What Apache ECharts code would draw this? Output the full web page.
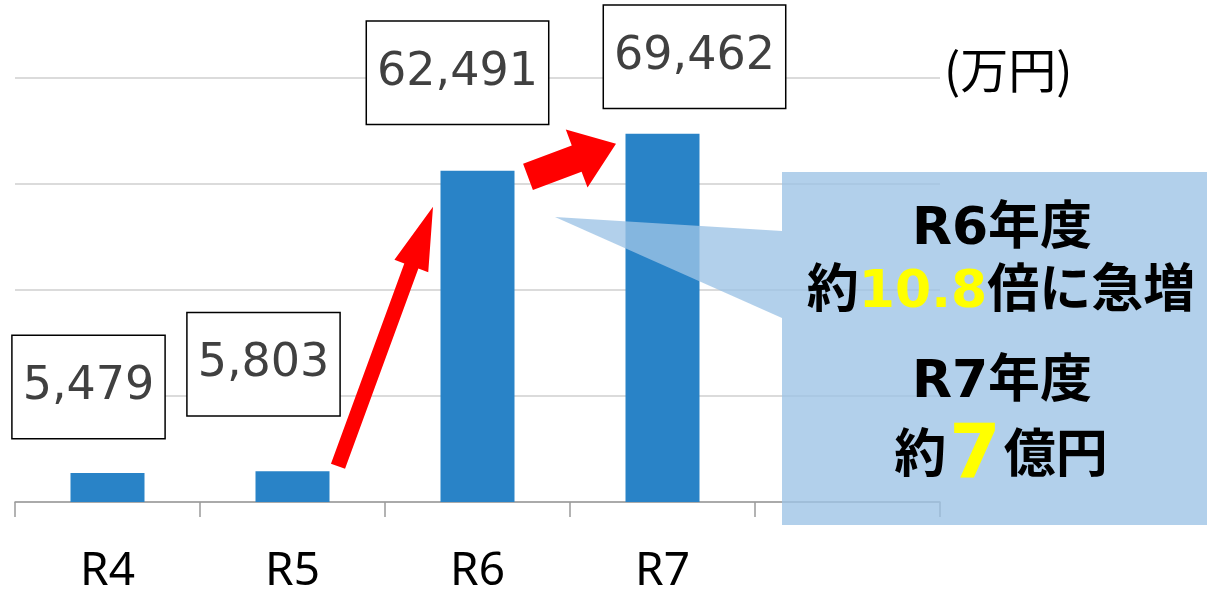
<!DOCTYPE html>
<html lang="ja">
<head>
    <meta charset="UTF-8">
    <title>R4-R7 推移</title>
    <script src="https://cdn.jsdelivr.net/npm/echarts@6/dist/echarts.min.js"></script>
    <style>
        html, body { margin: 0; padding: 0; background: #fff; }
        #main { width: 1207px; height: 591px; }
    </style>
</head>
<body>
<div id="main"></div>
<script type="text/javascript">
    // データ（万円）
    var categories = ['R4', 'R5', 'R6', 'R7', ''];
    var values = [5479, 5803, 62491, 69462];
    var yTicks = [0, 20000, 40000, 60000, 80000];

    // ラベル枠のずらし量（見た目の調整のみ）
    var labelShift = [[-19, -35], [-29, -56], [-20, -47], [32, -26]];

    var latin = '"DejaVu Sans", "Noto Sans CJK JP"';
    var myChart = echarts.init(document.getElementById('main'));

    var option = {
        animation: false,
        grid: { left: 15, right: 267, top: 78, bottom: 89, outerBoundsMode: 'none', containLabel: false },
        xAxis: {
            type: 'category',
            data: categories,
            axisLine: { lineStyle: { color: '#9a9a9a', width: 1.5 } },
            axisTick: { show: true, length: 15, lineStyle: { color: '#9a9a9a', width: 1.5 } },
            axisLabel: { color: '#000', fontSize: 46, fontFamily: 'Noto Sans', margin: 47 }
        },
        yAxis: {
            type: 'value',
            min: yTicks[0],
            max: yTicks[yTicks.length - 1],
            interval: yTicks[1] - yTicks[0],
            axisLabel: { show: false },
            axisLine: { show: false },
            axisTick: { show: false },
            splitLine: { lineStyle: { color: '#cfcfcf', width: 1.5 } }
        },
        series: [{
            type: 'bar',
            barWidth: '40%',
            itemStyle: { color: '#2983c7' },
            data: values.map(function (v, i) {
                return { value: v, label: { offset: labelShift[i] } };
            }),
            label: {
                show: true,
                position: 'top',
                distance: 0,
                formatter: function (p) { return p.value.toLocaleString('en-US'); },
                color: '#404040',
                fontSize: 46,
                fontFamily: 'DejaVu Sans',
                lineHeight: 50,
                backgroundColor: '#fff',
                borderColor: '#000',
                borderWidth: 1.5,
                padding: [26, 10, 26, 10]
            }
        }]
    };
    myChart.setOption(option);

    // 矢印（棒の位置から計算）
    function arrow(t, p, w, hw, hl) {
        var dx = p[0] - t[0], dy = p[1] - t[1];
        var len = Math.sqrt(dx * dx + dy * dy);
        var ux = dx / len, uy = dy / len;
        var nx = -uy, ny = ux;
        var bx = p[0] - ux * hl, by = p[1] - uy * hl;
        return [
            [t[0] + nx * w / 2, t[1] + ny * w / 2],
            [bx + nx * w / 2, by + ny * w / 2],
            [bx + nx * hw / 2, by + ny * hw / 2],
            p,
            [bx - nx * hw / 2, by - ny * hw / 2],
            [bx - nx * w / 2, by - ny * w / 2],
            [t[0] - nx * w / 2, t[1] - ny * w / 2]
        ];
    }
    function px(i) {
        return myChart.convertToPixel({ seriesIndex: 0 }, [i, values[i]]);
    }
    var b5 = px(1), b6 = px(2), b7 = px(3);
    var arrow1 = arrow([b5[0] + 45.5, b5[1] - 5], [b6[0] - 44.5, b6[1] + 36], 15, 36, 63);
    var arrow2 = arrow([b6[0] + 50.5, b6[1] + 6], [b7[0] - 46.5, b7[1] + 10], 28, 62, 42);

    var bold = { fontWeight: 'bold', fontFamily: latin, fontSize: 52, fill: '#000' };
    var yellowBold = { fontWeight: 'bold', fontFamily: latin, fontSize: 52, fill: '#ffff00' };

    myChart.setOption({
        graphic: [
            { type: 'polygon', z: 100, shape: { points: arrow1 }, style: { fill: '#ff0000' } },
            { type: 'polygon', z: 100, shape: { points: arrow2 }, style: { fill: '#ff0000' } },
            {
                type: 'text', z: 100, x: 944, y: 70,
                style: { text: '(万円)', verticalAlign: 'middle', fontSize: 48, fontFamily: '"Noto Sans CJK JP"', fill: '#000' }
            },
            // 吹き出し
            {
                type: 'polygon', z: 110,
                shape: { points: [[555, 217], [782, 231], [782, 318]] },
                style: { fill: 'rgba(157,195,230,0.79)' }
            },
            {
                type: 'rect', z: 110,
                shape: { x: 782, y: 172, width: 425, height: 353 },
                style: { fill: 'rgba(157,195,230,0.79)' }
            },
            {
                type: 'text', z: 120, x: 1002, y: 230,
                style: { text: 'R6年度', align: 'center', verticalAlign: 'middle', fontWeight: 'bold', fontFamily: latin, fontSize: 52, fill: '#000' }
            },
            {
                type: 'text', z: 120, x: 1001, y: 293,
                style: {
                    text: '{a|約}{b|10.8}{a|倍に急増}', align: 'center', verticalAlign: 'middle',
                    rich: { a: bold, b: yellowBold }
                }
            },
            {
                type: 'text', z: 120, x: 1002, y: 383,
                style: { text: 'R7年度', align: 'center', verticalAlign: 'middle', fontWeight: 'bold', fontFamily: latin, fontSize: 52, fill: '#000' }
            },
            {
                type: 'text', z: 120, x: 1001, y: 458,
                style: {
                    text: '{a|約}{c|7}{a|億円}', align: 'center', verticalAlign: 'middle',
                    rich: {
                        a: bold,
                        c: { fontWeight: 'bold', fontFamily: latin, fontSize: 74, fill: '#ffff00', padding: [0, 3, 0, 3] }
                    }
                }
            }
        ]
    });
</script>
</body>
</html>
